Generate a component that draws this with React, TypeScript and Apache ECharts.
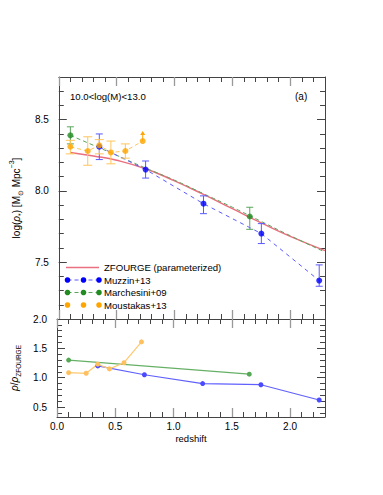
import React, { useEffect, useRef } from "react";
import * as echarts from "echarts";

// ---- data ----
const zCurve = [0.1, 0.3, 0.5, 0.75, 1.0, 1.25, 1.5, 1.75, 2.0, 2.3];
const zfourgeCurve = [8.27, 8.245, 8.215, 8.155, 8.07, 7.975, 7.875, 7.775, 7.68, 7.58];
const marchesiniCurve = [8.39, 8.32, 8.25, 8.16, 8.075, 7.98, 7.885, 7.785, 7.685, 7.57];

const zMuzzin = [0.35, 0.75, 1.25, 1.75, 2.25];
const muzzinVal = [8.31, 8.15, 7.91, 7.7, 7.37];
const muzzinLo = [8.22, 8.09, 7.84, 7.63, 7.33];
const muzzinHi = [8.4, 8.21, 7.965, 7.77, 7.48];

const zMarchesini = [0.1, 1.65];
const marchesiniVal = [8.39, 7.82];
const marchesiniLo = [8.33, 7.73];
const marchesiniHi = [8.45, 7.885];

const zMoustakas = [0.1, 0.25, 0.35, 0.45, 0.575, 0.725];
const moustakasVal = [8.31, 8.28, 8.32, 8.27, 8.28, 8.35];
const moustakasLo = [8.26, 8.18, 8.26, 8.19, 8.23, 8.35];
const moustakasHi = [8.355, 8.38, 8.36, 8.35, 8.33, 8.35];
const moustakasLimitZ = [0.725];
const moustakasLimitFrom = [8.35];
const moustakasLimitTo = [8.42];

const muzzinRatio = [1.2, 1.05, 0.9, 0.88, 0.62];
const marchesiniRatio = [1.3, 1.06];
const moustakasRatio = [1.085, 1.075, 1.23, 1.15, 1.255, 1.61];

const xLabelTicks = [0, 0.5, 1.0, 1.5, 2.0];
const xMinorTicks = [0.1, 0.2, 0.3, 0.4, 0.5, 0.6, 0.7, 0.8, 0.9, 1.0, 1.1, 1.2, 1.3, 1.4, 1.5, 1.6, 1.7, 1.8, 1.9, 2.0, 2.1, 2.2];
const topYLabels = [7.5, 8.0, 8.5];
const topYMinor = [7.2, 7.3, 7.4, 7.5, 7.6, 7.7, 7.8, 7.9, 8.0, 8.1, 8.2, 8.3, 8.4, 8.5, 8.6, 8.7];
const botYLabels = [0.5, 1.0, 1.5, 2.0];
const botYMinor = [0.4, 0.5, 0.6, 0.7, 0.8, 0.9, 1.0, 1.1, 1.2, 1.3, 1.4, 1.5, 1.6, 1.7, 1.8, 1.9];

const FONT = "Liberation Sans, Arial, Helvetica, sans-serif";
const FRAME = "#444";

const zip = (...arrs: number[][]) => arrs[0].map((_, i) => arrs.map((a) => a[i]));

function errRender(color: string, cap: number) {
  return (params: any, api: any) => {
    const x = api.value(0);
    const lo = api.coord([x, api.value(1)]);
    const hi = api.coord([x, api.value(2)]);
    const st = { stroke: color, lineWidth: 1, fill: "none" };
    return {
      type: "group",
      children: [
        { type: "line", shape: { x1: lo[0], y1: lo[1], x2: hi[0], y2: hi[1] }, style: st },
        { type: "line", shape: { x1: lo[0] - cap, y1: lo[1], x2: lo[0] + cap, y2: lo[1] }, style: st },
        { type: "line", shape: { x1: hi[0] - cap, y1: hi[1], x2: hi[0] + cap, y2: hi[1] }, style: st },
      ],
    };
  };
}

function arrowRender(color: string) {
  return (params: any, api: any) => {
    const x = api.value(0);
    const a = api.coord([x, api.value(1)]);
    const b = api.coord([x, api.value(2)]);
    return {
      type: "group",
      children: [
        { type: "line", shape: { x1: a[0], y1: a[1], x2: b[0], y2: b[1] + 3 }, style: { stroke: color, lineWidth: 1 } },
        { type: "polygon", shape: { points: [[b[0] - 2.5, b[1] + 4], [b[0] + 2.5, b[1] + 4], [b[0], b[1]]] }, style: { fill: color } },
      ],
    };
  };
}

function xAxes(grid: number, min: number, max: number, showLabels: boolean) {
  const common = { gridIndex: grid, type: "value", min, max, splitLine: { show: false } };
  const mk = (pos: string, major: boolean, labels: boolean, line: boolean): any => ({
    ...common,
    position: pos,
    axisLine: { show: line, onZero: false, lineStyle: { color: FRAME, width: 1 } },
    axisTick: {
      show: true,
      inside: true,
      length: major ? 9 : 5,
      customValues: major ? xLabelTicks : xMinorTicks,
      lineStyle: { color: major ? "#999" : FRAME, width: major ? 1.3 : 1 },
    },
    axisLabel: labels
      ? { show: true, customValues: xLabelTicks, formatter: (v: number) => v.toFixed(1), margin: 4, fontSize: 10, color: "#000", fontFamily: FONT }
      : { show: false },
    ...(labels
      ? { name: "redshift", nameLocation: "middle", nameGap: 16, nameTextStyle: { fontSize: 9.5, color: "#000", fontFamily: FONT } }
      : {}),
  });
  return [
    mk("bottom", false, showLabels, true),
    mk("bottom", true, false, false),
    mk("top", false, false, true),
    mk("top", true, false, false),
  ];
}

function yAxes(grid: number, min: number, max: number, labels: number[], minor: number[], name: any) {
  const mk = (pos: string, major: boolean, withLabels: boolean, line: boolean): any => ({
    gridIndex: grid,
    type: "value",
    min,
    max,
    position: pos,
    splitLine: { show: false },
    axisLine: { show: line, onZero: false, lineStyle: { color: FRAME, width: 1 } },
    axisTick: {
      show: true,
      inside: true,
      length: major ? 8 : 5,
      customValues: major ? labels : minor,
      lineStyle: { color: FRAME, width: 1 },
    },
    axisLabel: withLabels
      ? { show: true, customValues: labels, formatter: (v: number) => v.toFixed(1), margin: 10, fontSize: 10, color: "#000", fontFamily: FONT }
      : { show: false },
    ...(withLabels ? name : {}),
  });
  return [mk("left", false, true, true), mk("left", true, false, false), mk("right", false, false, true), mk("right", true, false, false)];
}

const topName = {
  name: "{n|log(}{i|ρ}{s|*}{n|) [M}{s|⊙}{n| Mpc}{p|−3}{n|]}",
  nameLocation: "middle",
  nameGap: 24,
  nameRotate: 90,
  nameTextStyle: {
    fontFamily: FONT,
    color: "#000",
    rich: {
      n: { fontSize: 10, fontFamily: FONT, color: "#000", lineHeight: 16, verticalAlign: "middle" },
      i: { fontSize: 10, fontFamily: FONT, fontStyle: "italic", color: "#000", lineHeight: 16, verticalAlign: "middle" },
      s: { fontSize: 7, fontFamily: FONT, color: "#000", lineHeight: 16, verticalAlign: "bottom" },
      p: { fontSize: 7, fontFamily: FONT, color: "#000", lineHeight: 16, verticalAlign: "top" },
    },
  },
};

const botName = {
  name: "{i|ρ}{n|/}{i|ρ}{s|ZFOURGE}",
  nameLocation: "middle",
  nameGap: 24,
  nameRotate: 90,
  nameTextStyle: {
    fontFamily: FONT,
    color: "#000",
    rich: {
      n: { fontSize: 10, fontFamily: FONT, color: "#000", lineHeight: 16, verticalAlign: "middle" },
      i: { fontSize: 10, fontFamily: FONT, fontStyle: "italic", color: "#000", lineHeight: 16, verticalAlign: "middle" },
      s: { fontSize: 6.5, fontFamily: FONT, color: "#000", lineHeight: 16, verticalAlign: "bottom" },
    },
  },
};

const BLUE = "#0000ff";
const BLUE_L = "#5a5aff";
const GREEN = "#228b22";
const GREEN_L = "#5aa55a";
const ORANGE = "#ffa500";
const ORANGE_L = "#ffc55a";
const RED = "#ea6f7f";

function legendRow(y: number, label: string, color: string, lineColor: string, kind: string): any[] {
  const xs = [67.5, 83.5, 99];
  const items: any[] = [];
  if (kind === "line") {
    items.push({ type: "line", shape: { x1: 66, y1: y, x2: 99, y2: y }, style: { stroke: color, lineWidth: 1.6 } });
  } else {
    if (kind === "dashed") {
      items.push({
        type: "line",
        shape: { x1: 67.5, y1: y, x2: 99, y2: y },
        style: { stroke: lineColor, lineWidth: 1, lineDash: [4, 3] },
      });
    }
    xs.forEach((x) => items.push({ type: "circle", shape: { cx: x, cy: y, r: 2.8 }, style: { fill: color } }));
  }
  items.push({
    type: "text",
    x: 104,
    y,
    style: { text: label, fill: "#000", font: `9.6px ${FONT}`, verticalAlign: "middle", align: "left" },
  });
  return items;
}

export default function App() {
  const ref = useRef<HTMLDivElement>(null);
  useEffect(() => {
    if (!ref.current) return;
    const chart = echarts.init(ref.current, null, { renderer: "svg" });
    const option: any = {
      animation: false,
      backgroundColor: "#fff",
      grid: [
        { left: 57, top: 77, width: 268, height: 242 },
        { left: 57, top: 319, width: 268, height: 98 },
      ],
      xAxis: [...xAxes(0, 0, 2.3, false), ...xAxes(1, 0, 2.3, true)],
      yAxis: [
        ...yAxes(0, 7.1, 8.8, topYLabels, topYMinor, topName),
        ...yAxes(1, 0.33, 2.0, botYLabels, botYMinor, botName),
      ],
      series: [
        {
          type: "line",
          name: "ZFOURGE (parameterized)",
          xAxisIndex: 0,
          yAxisIndex: 0,
          data: zip(zCurve, zfourgeCurve),
          smooth: true,
          showSymbol: false,
          lineStyle: { color: RED, width: 1.5 },
          z: 2,
        },
        {
          type: "line",
          name: "Marchesini fit",
          xAxisIndex: 0,
          yAxisIndex: 0,
          data: zip(zCurve, marchesiniCurve),
          smooth: true,
          showSymbol: false,
          lineStyle: { color: GREEN_L, width: 1, type: [4, 3] },
          z: 3,
        },
        {
          type: "line",
          name: "Muzzin line",
          xAxisIndex: 0,
          yAxisIndex: 0,
          data: zip(zMuzzin, muzzinVal),
          showSymbol: false,
          lineStyle: { color: BLUE_L, width: 1, type: [4, 4] },
          z: 3,
        },
        {
          type: "line",
          name: "Moustakas line",
          xAxisIndex: 0,
          yAxisIndex: 0,
          data: zip(zMoustakas, moustakasVal),
          showSymbol: false,
          lineStyle: { color: ORANGE_L, width: 1, type: [4, 3] },
          z: 3,
        },
        {
          type: "custom",
          xAxisIndex: 0,
          yAxisIndex: 0,
          renderItem: errRender(BLUE_L, 3.5),
          data: zip(zMuzzin, muzzinLo, muzzinHi),
          encode: { x: 0, y: [1, 2] },
          z: 4,
        },
        {
          type: "custom",
          xAxisIndex: 0,
          yAxisIndex: 0,
          renderItem: errRender(GREEN_L, 3.5),
          data: zip(zMarchesini, marchesiniLo, marchesiniHi),
          encode: { x: 0, y: [1, 2] },
          z: 4,
        },
        {
          type: "custom",
          xAxisIndex: 0,
          yAxisIndex: 0,
          renderItem: errRender(ORANGE_L, 4.5),
          data: zip(zMoustakas, moustakasLo, moustakasHi).slice(0, 5),
          encode: { x: 0, y: [1, 2] },
          z: 4,
        },
        {
          type: "custom",
          xAxisIndex: 0,
          yAxisIndex: 0,
          renderItem: arrowRender(ORANGE),
          data: zip(moustakasLimitZ, moustakasLimitFrom, moustakasLimitTo),
          encode: { x: 0, y: [1, 2] },
          z: 4,
        },
        {
          type: "scatter",
          name: "Muzzin+13",
          xAxisIndex: 0,
          yAxisIndex: 0,
          data: zip(zMuzzin, muzzinVal),
          symbolSize: 6,
          itemStyle: { color: BLUE },
          z: 5,
        },
        {
          type: "scatter",
          name: "Marchesini+09",
          xAxisIndex: 0,
          yAxisIndex: 0,
          data: zip(zMarchesini, marchesiniVal),
          symbolSize: 6,
          itemStyle: { color: GREEN },
          z: 5,
        },
        {
          type: "scatter",
          name: "Moustakas+13",
          xAxisIndex: 0,
          yAxisIndex: 0,
          data: zip(zMoustakas, moustakasVal),
          symbolSize: 6,
          itemStyle: { color: ORANGE },
          z: 6,
        },
        // ratio panel
        {
          type: "line",
          xAxisIndex: 4,
          yAxisIndex: 4,
          data: zip(zMarchesini, marchesiniRatio),
          symbol: "circle",
          symbolSize: 5,
          lineStyle: { color: "#66b066", width: 1.2 },
          itemStyle: { color: "#55a855" },
        },
        {
          type: "line",
          xAxisIndex: 4,
          yAxisIndex: 4,
          data: zip(zMuzzin, muzzinRatio),
          symbol: "circle",
          symbolSize: 5,
          lineStyle: { color: "#6060ff", width: 1.2 },
          itemStyle: { color: "#4a4aff" },
        },
        {
          type: "line",
          xAxisIndex: 4,
          yAxisIndex: 4,
          data: zip(zMoustakas, moustakasRatio),
          symbol: "circle",
          symbolSize: 5,
          lineStyle: { color: "#ffc870", width: 1.2 },
          itemStyle: { color: "#ffc060" },
        },
      ],
      graphic: [
        {
          type: "text",
          x: 70,
          y: 96,
          style: { text: "10.0<log(M)<13.0", fill: "#000", font: `9.6px ${FONT}`, verticalAlign: "middle" },
        },
        {
          type: "text",
          x: 295,
          y: 96.5,
          style: { text: "(a)", fill: "#000", font: `10px ${FONT}`, verticalAlign: "middle" },
        },
        ...legendRow(267.5, "ZFOURGE (parameterized)", RED, RED, "line"),
        ...legendRow(280, "Muzzin+13", BLUE, BLUE_L, "dashed"),
        ...legendRow(292.5, "Marchesini+09", GREEN, GREEN_L, "dashed"),
        ...legendRow(305, "Moustakas+13", ORANGE, ORANGE_L, "dots"),
      ],
    };
    chart.setOption(option);
    return () => chart.dispose();
  }, []);
  return (
    <div
      ref={ref}
      style={{ position: "fixed", left: 0, top: 0, width: 383, height: 495, background: "#fff" }}
    />
  );
}
